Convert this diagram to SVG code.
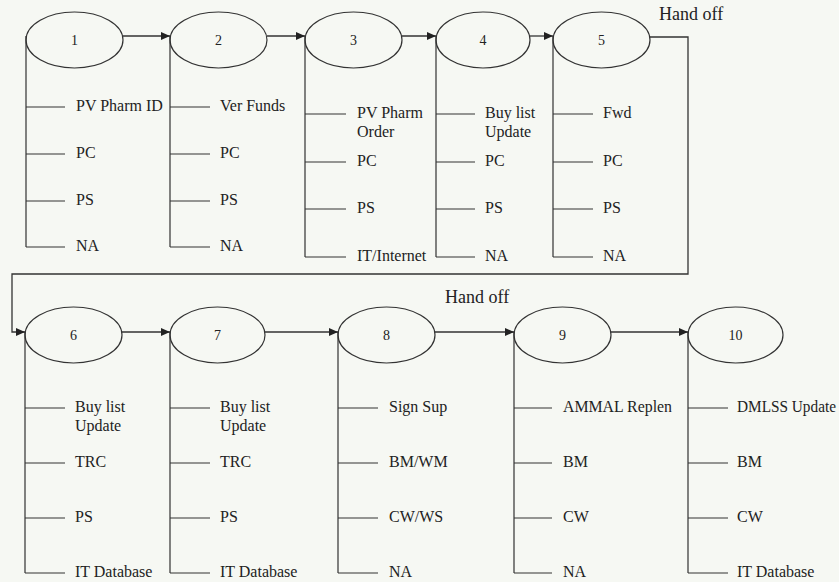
<svg xmlns="http://www.w3.org/2000/svg" width="839" height="582" viewBox="0 0 839 582">
<defs>
<marker id="ah" markerUnits="userSpaceOnUse" markerWidth="10" markerHeight="8" refX="9" refY="4" orient="auto">
<path d="M0,0 L9,4 L0,8 Z" fill="#222"/>
</marker>
<style>
.e{fill:none;stroke:#333;stroke-width:1.2}
.l{fill:none;stroke:#333;stroke-width:1.2}
.n{font-family:"Liberation Serif",serif;font-size:14px;fill:#222;text-anchor:middle}
.t{font-family:"Liberation Serif",serif;font-size:16px;fill:#222}
.h{font-family:"Liberation Serif",serif;font-size:18px;fill:#222}
.c{fill:none;stroke:#333;stroke-width:1.3}
</style>
</defs>
<rect width="839" height="582" fill="#f6f8f3"/>

<g id="node1">
<ellipse class="e" cx="74.5" cy="40" rx="48.5" ry="28"/>
<text class="n" x="74.5" y="45">1</text>
<path class="l" d="M26,36 V247 M26,107 H65 M26,154 H65 M26,201 H65 M26,247 H65"/>
<text class="t" x="76" y="111">PV Pharm ID</text>
<text class="t" x="76" y="158">PC</text>
<text class="t" x="76" y="205">PS</text>
<text class="t" x="76" y="251">NA</text>
</g>

<g id="node2">
<ellipse class="e" cx="218.5" cy="40" rx="48.5" ry="28"/>
<text class="n" x="218.5" y="45">2</text>
<path class="l" d="M170,36 V247 M170,107 H210 M170,154 H210 M170,201 H210 M170,247 H210"/>
<text class="t" x="220" y="111">Ver Funds</text>
<text class="t" x="220" y="158">PC</text>
<text class="t" x="220" y="205">PS</text>
<text class="t" x="220" y="251">NA</text>
</g>

<g id="node3">
<ellipse class="e" cx="353.5" cy="40" rx="48.5" ry="28"/>
<text class="n" x="353.5" y="45">3</text>
<path class="l" d="M305,36 V257 M305,114 H346 M305,162 H346 M305,209 H346 M305,257 H346"/>
<text class="t" x="357" y="118">PV Pharm</text>
<text class="t" x="357" y="137">Order</text>
<text class="t" x="357" y="166">PC</text>
<text class="t" x="357" y="213">PS</text>
<text class="t" x="357" y="261">IT/Internet</text>
</g>

<g id="node4">
<ellipse class="e" cx="483" cy="40" rx="47" ry="28"/>
<text class="n" x="483" y="45">4</text>
<path class="l" d="M436,36 V257 M436,114 H475 M436,162 H475 M436,209 H475 M436,257 H475"/>
<text class="t" x="485" y="118">Buy list</text>
<text class="t" x="485" y="137">Update</text>
<text class="t" x="485" y="166">PC</text>
<text class="t" x="485" y="213">PS</text>
<text class="t" x="485" y="261">NA</text>
</g>

<g id="node5">
<ellipse class="e" cx="601.5" cy="40" rx="48.5" ry="28"/>
<text class="n" x="601.5" y="45">5</text>
<path class="l" d="M553,36 V257 M553,114 H593 M553,162 H593 M553,209 H593 M553,257 H593"/>
<text class="t" x="603" y="118">Fwd</text>
<text class="t" x="603" y="166">PC</text>
<text class="t" x="603" y="213">PS</text>
<text class="t" x="603" y="261">NA</text>
</g>

<g id="node6">
<ellipse class="e" cx="73.5" cy="335" rx="48.5" ry="28"/>
<text class="n" x="73.5" y="340">6</text>
<path class="l" d="M25,332 V573 M25,408 H65 M25,463 H65 M25,518 H65 M25,573 H65"/>
<text class="t" x="75" y="412">Buy list</text>
<text class="t" x="75" y="431">Update</text>
<text class="t" x="75" y="467">TRC</text>
<text class="t" x="75" y="522">PS</text>
<text class="t" x="75" y="577">IT Database</text>
</g>

<g id="node7">
<ellipse class="e" cx="217.5" cy="335" rx="47.5" ry="28"/>
<text class="n" x="217.5" y="340">7</text>
<path class="l" d="M170,332 V573 M170,408 H210 M170,463 H210 M170,518 H210 M170,573 H210"/>
<text class="t" x="220" y="412">Buy list</text>
<text class="t" x="220" y="431">Update</text>
<text class="t" x="220" y="467">TRC</text>
<text class="t" x="220" y="522">PS</text>
<text class="t" x="220" y="577">IT Database</text>
</g>

<g id="node8">
<ellipse class="e" cx="386.5" cy="335" rx="48.5" ry="28"/>
<text class="n" x="386.5" y="340">8</text>
<path class="l" d="M338,332 V573 M338,408 H378 M338,463 H378 M338,518 H378 M338,573 H378"/>
<text class="t" x="389" y="412">Sign Sup</text>
<text class="t" x="389" y="467">BM/WM</text>
<text class="t" x="389" y="522">CW/WS</text>
<text class="t" x="389" y="577">NA</text>
</g>

<g id="node9">
<ellipse class="e" cx="562.5" cy="335" rx="48.5" ry="28"/>
<text class="n" x="562.5" y="340">9</text>
<path class="l" d="M514,332 V573 M514,408 H552 M514,463 H552 M514,518 H552 M514,573 H552"/>
<text class="t" x="563" y="412" textLength="109" lengthAdjust="spacingAndGlyphs">AMMAL Replen</text>
<text class="t" x="563" y="467">BM</text>
<text class="t" x="563" y="522">CW</text>
<text class="t" x="563" y="577">NA</text>
</g>

<g id="node10">
<ellipse class="e" cx="735.5" cy="335" rx="47.5" ry="28"/>
<text class="n" x="735.5" y="340">10</text>
<path class="l" d="M688,332 V573 M688,408 H728 M688,463 H728 M688,518 H728 M688,573 H728"/>
<text class="t" x="737" y="412" textLength="99" lengthAdjust="spacingAndGlyphs">DMLSS Update</text>
<text class="t" x="737" y="467">BM</text>
<text class="t" x="737" y="522">CW</text>
<text class="t" x="737" y="577">IT Database</text>
</g>

<g id="connectors">
<path class="c" d="M123,36 H170" marker-end="url(#ah)"/>
<path class="c" d="M267,36 H305" marker-end="url(#ah)"/>
<path class="c" d="M402,36 H436" marker-end="url(#ah)"/>
<path class="c" d="M530,36 H553" marker-end="url(#ah)"/>
<path class="c" d="M650,37 H688 V274 H12 V332 H25" marker-end="url(#ah)"/>
<path class="c" d="M122,332 H170" marker-end="url(#ah)"/>
<path class="c" d="M265,332 H338" marker-end="url(#ah)"/>
<path class="c" d="M435,332 H514" marker-end="url(#ah)"/>
<path class="c" d="M611,332 H688" marker-end="url(#ah)"/>
<text class="h" x="659" y="20">Hand off</text>
<text class="h" x="445" y="303">Hand off</text>
</g>
</svg>
